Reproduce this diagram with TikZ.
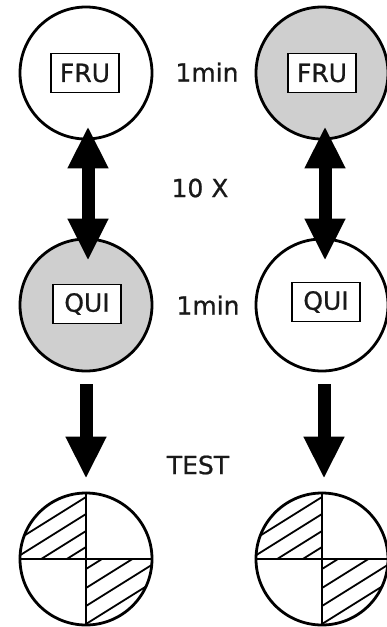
\documentclass[tikz,border=0pt]{standalone}
\usepackage{fontspec}
\setmainfont{DejaVu Sans}[FakeBold=0.6]
\newfontfamily\lblfont{DejaVu Sans}[FakeBold=0.8]
\usetikzlibrary{arrows.meta}
\begin{document}
\begin{tikzpicture}[x=1pt,y=-1pt,
  circ/.style={circle,draw=black,line width=2.8pt,minimum size=132pt,inner sep=0pt},
  shaded/.style={fill=black!19},
  lbox/.style={draw=black,line width=1.6pt,minimum width=68pt,minimum height=39pt,inner sep=0pt,font=\lblfont\fontsize{25}{25}\selectfont,text=black!90},
  lbl/.style={font=\lblfont\fontsize{25}{25}\selectfont,text=black!90,inner sep=0pt},
  bigarrow/.style={line width=13pt,-{Triangle[width=38pt,length=42pt]}},
  dblarrow/.style={line width=13pt,{Triangle[width=38pt,length=42pt]}-{Triangle[width=38pt,length=42pt]}},
  hatch/.style={line width=1.8pt},
  crossline/.style={line width=2.8pt}]
\useasboundingbox (0,0) rectangle (387,627);
% circles
\node[circ] (f1) at (86,73) {};
\node[circ,shaded] (f2) at (322,73) {};
\node[circ,shaded] (q1) at (86,305) {};
\node[circ] (q2) at (322,305) {};
\node[circ] (b1) at (86,559) {};
\node[circ] (b2) at (322,559) {};
% labelled boxes
\node[lbox,fill=white] (tf1) at (85,73) {FRU};
\node[lbox,fill=white] (tf2) at (322,73) {FRU};
\node[lbox,fill=white] (tq1) at (87,304) {QUI};
\node[lbox,fill=white] (tq2) at (326,302) {QUI};
% texts
\node[lbl] (t1) at (207,72) {1min};
\node[lbl] (t2) at (200,188) {10 X};
\node[lbl] (t3) at (208,305) {1min};
\node[lbl] (t4) at (198,465) {TEST};
% arrows
\draw[dblarrow,shorten <=-14pt,shorten >=-23pt] ([xshift=2pt]f1.south) -- ([xshift=2pt]q1.north);
\draw[dblarrow,shorten <=-14pt,shorten >=-23pt] ([xshift=3pt]f2.south) -- ([xshift=3pt]q2.north);
\draw[bigarrow,shorten <=12pt,shorten >=13pt] (q1.south) -- (b1.north);
\draw[bigarrow,shorten <=12pt,shorten >=13pt] ([xshift=2pt]q2.south) -- ([xshift=2pt]b2.north);
% hatched result circles
\foreach \n in {b1,b2}{
  \begin{scope}[shift={(\n.center)},yscale=-1]
    \begin{scope}
      \clip (0,0) circle (66);
      \clip (-70,0) rectangle (0,70);
      \foreach \c in {12,28,45,62}
        \draw[hatch] (-80,{\c-50}) -- (0,\c);
    \end{scope}
    \begin{scope}
      \clip (0,0) circle (66);
      \clip (0,0) rectangle (70,-70);
      \foreach \c in {-10,-29,-47,-65}
        \draw[hatch] (0,\c) -- (80,{\c+50});
    \end{scope}
  \end{scope}
  \draw[crossline] (\n.north) -- (\n.south);
  \draw[crossline] (\n.west) -- (\n.east);
}
\end{tikzpicture}
\end{document}
